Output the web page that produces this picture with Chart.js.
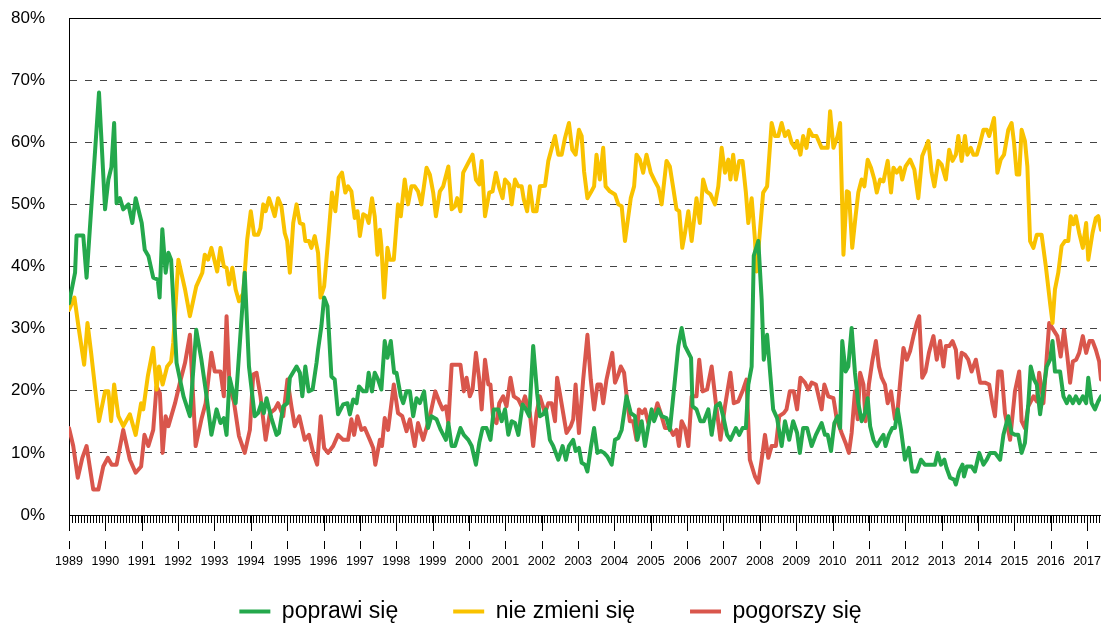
<!DOCTYPE html>
<html>
<head>
<meta charset="utf-8">
<script src="https://cdn.jsdelivr.net/npm/chart.js@4.4.1/dist/chart.umd.min.js"></script>
<style>
html, body { margin: 0; padding: 0; background: #fff; }
#wrap { width: 1101px; height: 628px; }
</style>
</head>
<body>
<div id="wrap"><canvas id="chart"></canvas></div>
<script>
const seriesNames = ['poprawi się', 'nie zmieni się', 'pogorszy się'];
const seriesColors = ['#24a84c', '#f9c200', '#d9564c'];
const firstYear = 1989;
const lastMonth = 340.6;   // months since Jan 1989 at right edge
const yMax = 80;

// [months since Jan 1989, percent]
const poprawiSie = [
  [0,34.1],[2,39],[2.5,45],[4.7,45],[5.8,38.2],[9.9,68],[11.9,49.2],[13,54],[14,56],[14.9,63.1],[15.7,50.2],[16.8,51],[17.9,49.2],[19.6,50],[20.9,47],[22,51],[24,47],[25,42.7],[26.2,41.7],[27.8,38.2],[29.3,37.9],[29.9,35],[30.8,46],[31.9,39],[32.8,42.2],[33.7,41.1],[35.5,24.5],[37.8,19.1],
  [39.9,15.9],[42,29.8],[43.7,25],[45.4,19.1],[47,12.9],[48.7,17],[50,14.8],[51.1,15.6],[52,12.9],[53,22.1],[55,18],[58,39],[59.4,23.9],[61.3,15.9],[62.4,16.4],[63.5,18],[64.3,16.4],[65.2,18.8],[66.8,15.6],[68.5,12.9],[69.3,13.2],[70.7,17.5],[72.1,18],[72.9,22.1],[75.1,23.9],[76.2,22.9],[77,19.1],[78,23.9],[79.1,19.9],[80.4,20.2],[81.7,24.5],
  [82.2,26.6],[83.3,30.4],[84.2,35],[85.3,33.6],[86.6,22.3],[87.7,21.8],[88.8,16.2],[90.5,17.8],[91.9,18],[92.7,16.2],[93.8,18.6],[94.9,18],[95.7,20.7],[97.1,19.9],[98.2,19.9],[98.9,22.9],[100,19.9],[100.9,22.9],[102,21.8],[103.1,20.2],[104.2,28],[105.1,25.3],[106.2,28],[107.3,22.9],[108.1,22.9],[109.5,19.1],[110.3,18],[111.4,19.9],[112.5,19.9],[113.6,15.9],[114.7,18.8],[115.8,18],[117.2,19.9],[118.5,14],[119.6,15.9],[121.3,15.4],[122.7,13.7],
  [124.4,12.1],[125.2,14.8],[126.3,11.1],[127.4,11.1],[129.2,14],[130.3,12.9],[131.8,12.1],[132.9,11.1],[134.3,8.1],[135.4,11.6],[136.5,14],[137.8,14],[139.1,12.1],[140.2,17],[141.7,17],[142.8,15.1],[143.9,17],[145,12.9],[146.1,15.1],[147.2,14.8],[148.3,12.9],[149.7,17.8],[150.8,17],[151.9,15.9],[153.2,27.2],[154.5,19.6],[155.4,15.9],[156.5,16.2],[157.4,17],[158.7,12.1],[159.8,11.1],[161.5,8.9],[162.9,11.1],[164,8.9],
  [165,11.1],[166.4,12.1],[167.2,10.3],[168.3,10.8],[169.2,8.4],[170.3,8.1],[171.1,7],[172.2,10.8],[173.3,14],[174.4,10],[175.5,10.3],[176.6,10],[177.7,9.4],[179.1,8.1],[180.2,12.1],[181.3,12.4],[182.4,13.7],[184,19.1],[185.4,16.4],[186.8,15.9],[187.6,12.1],[189,15.1],[190.1,11.1],[191.2,14.3],[192.3,17],[193.1,15.1],[194.5,17],[195.6,15.9],[197.2,15.6],[198.3,13.7],[200,21.8],[201.1,27.2],[202.2,30.1],[203.3,27.2],[205.3,25.3],
  [205.8,17.5],[207.1,17],[208.4,15.1],[209.5,15.1],[211,17],[212.1,12.9],[213.5,17.5],[214.8,18],[215.9,15.9],[217.2,12.9],[218.3,12.1],[220.1,14],[221.2,12.9],[222.3,14],[223.4,14],[224.2,21],[225.3,23.9],[226,41.7],[227.5,44.1],[228.6,34.7],[229.3,25],[230.4,29],[231.5,22.3],[232.4,17],[233.7,15.6],[235.2,11.1],[236.3,15.1],[237.7,12.1],[239,15.1],[240.3,13.2],[241.2,10],[242.3,14],[243.6,14],[245.1,11.1],[246.5,12.9],
  [248.4,14.8],[249.5,12.9],[250.4,12.9],[251.5,10.3],[252.6,14.8],[253.7,15.9],[254.5,14],[255.2,28],[256.3,23.1],[257.2,23.9],[258.3,30.1],[259.4,22.9],[260.5,18],[261.6,15.1],[262.7,16.4],[263.6,18.8],[264.4,14.3],[265.5,12.1],[266.6,11.1],[267.7,12.1],[268.8,12.9],[269.5,11.1],[270.6,12.9],[271.7,14],[272.6,14],[273.5,17],[274.6,13.7],[275.9,8.9],[277.2,10.8],[278.3,7],[279.8,7],[281.2,8.9],[282.5,8.1],[284.2,8.1],[285.8,8.1],[286.7,10],[287.8,8.1],[288.9,8.9],
  [289.6,7.6],[290.8,6],[292.1,5.7],[292.7,4.9],[293.8,7],[294.9,8.1],[295.4,6.2],[296.3,7.8],[297.9,7.8],[299,7],[300.4,10],[301.8,8.1],[302.9,8.9],[304,10],[305.6,10],[307.3,8.9],[308.4,12.9],[310,15.9],[311.1,13.2],[312.2,12.9],[313.3,12.9],[314.4,10],[315.5,11.6],[316.6,17.8],[317.4,23.9],[318.5,21.8],[319.4,21],[320.5,16.2],[321.6,20.2],[322.7,23.9],[323.8,25],[324.6,28],[325.4,23.1],[327.1,23.1],[328.2,19.1],[329.3,18],[330.2,19.1],[331.3,18],[332.3,19.1],[333.4,18],[334.6,19.1],[335.7,18],[336.4,22.1],[337.5,18],[338.6,17],[339.7,18.3],[340.6,19.1]
];

const nieZmieniSie = [
  [0,33],[1.8,35],[3.1,30.4],[5,24.2],[6.1,30.9],[7.3,26.1],[8.6,20.5],[9.9,15.1],[11.9,19.9],[13,19.9],[13.9,15.1],[14.9,21],[16.3,15.9],[17.9,14.3],[20.1,16.2],[22,12.9],[23.8,18],[24.5,17],[26,22.3],[27.8,26.9],[28.9,20.2],[29.7,23.9],[30.9,21],[32.4,23.9],[33.7,24.7],[34.4,27.7],[36.1,41.1],[38.3,36.3],
  [39.9,32],[42,36.8],[44,39],[44.8,41.9],[45.9,41.1],[47,43],[48.9,39.2],[50,43],[51.1,40],[52,39.8],[52.8,37.1],[53.9,39.8],[55,36.3],[56.1,34.4],[57.5,35.7],[58.8,44.3],[60,48.9],[61.1,45.1],[62.4,45.1],[63.2,46.2],[64.1,50],[64.9,48.9],[66,51],[67.1,49.4],[67.9,48.1],[69,51],[70.1,49.7],[71.2,45.4],[72,44.1],[72.9,39],[74,47],[75.1,50],[76.2,47],[77.3,46.8],[78,44.1],[79.2,44.1],[80,43],[81.1,44.9],
  [82.2,42.2],[83,35],[84.2,36.8],[85.5,44.1],[86.8,51.9],[87.9,48.9],[89,54.3],[90.1,55.1],[91.2,51.9],[92.1,52.9],[93.2,52.1],[94.3,47.8],[95.2,48.9],[96,44.9],[97.1,48.4],[98.2,48.1],[98.9,47],[100,51],[100.9,48.1],[101.8,41.9],[102.6,45.9],[103.1,43.3],[104,35],[105.1,43],[105.9,41.1],[107.2,41.1],[108.6,50],[109.5,48.1],[110.8,54],[111.9,50],[113,52.9],[114.1,52.9],[115.2,52.1],[116.3,50],[118,55.9],[119.1,54.8],[120.2,51.9],[121.1,48.1],[122.4,52.1],
  [123.5,52.9],[125.2,56.1],[126.3,49.2],[127.4,49.7],[128.1,51],[129.2,48.9],[130.1,55.1],[131.8,56.7],[133.2,58],[134.3,54],[135.4,53.2],[136.2,57],[137.3,48.1],[138.7,51.9],[139.8,52.1],[140.9,55.1],[142,52.7],[143.1,51],[143.9,54],[145.3,53.2],[146.1,50],[147.2,54],[148.3,52.9],[149.4,52.9],[150.1,50.8],[151.2,48.9],[152.1,52.9],[153.2,48.9],[154.3,48.9],[155.4,52.9],[157.1,53],[158.2,57],[160.4,61],[161.5,58],[162.6,58],[163.7,60.7],
  [165,63.1],[166.1,58.8],[167.2,58],[168.3,62],[169.2,61],[170,55.3],[171.1,51],[172.2,51.9],[173.3,52.9],[174.1,58],[175.2,54],[176.3,59.1],[177.1,52.9],[178.5,52.1],[180.2,51.6],[181.3,50],[182.4,49.7],[183.5,44.1],[184.6,48.1],[185.4,51],[186.5,52.9],[187.3,58],[188.4,57.2],[189.5,55.1],[190.6,58],[192,55.1],[193.4,53.7],[194.5,52.7],[195.6,50],[197.2,57],[198.3,56.1],[199.4,52.7],[200.5,49.2],[201.4,48.9],[202.4,43],[203.3,45.4],[204.4,48.9],[205.5,44.1],
  [207.1,51],[208.2,47],[209.3,54],[210.4,52.1],[211.7,51.6],[213.2,50],[214.3,52.9],[215.4,59.1],[216.5,55.1],[217.6,57.2],[218.3,54],[219.2,58],[220.1,54],[221.2,57],[222.3,57],[223.4,51.9],[224.2,47],[225.3,51],[226.4,44.3],[226.9,39.2],[227.8,44.3],[229.1,51.9],[230.4,52.9],[231.9,63.1],[233,61],[234.1,61],[235.2,63.1],[236.3,61],[237.4,61.8],[238.5,59.9],[239.6,59.1],[240.3,60.2],[241.4,58],[242.3,61],[243.4,59.1],[244.3,62],[245.4,61],[246.7,61],
  [248.4,59.1],[250.4,59.1],[251.2,65],[252.3,59.1],[253.7,61],[254.5,63.1],[255.6,41.9],[256.7,52.1],[257.4,51.9],[258.5,43],[259.6,48.1],[260.5,51.9],[261.6,54],[262.5,52.9],[263.6,57.2],[264.7,55.9],[265.8,54],[266.6,51.9],[267.7,54],[268.8,53.7],[270.2,57],[271.3,51.9],[272.1,55.9],[273.2,55.1],[274.3,55.9],[275,54],[276.1,56.1],[277.6,57.2],[279,55.6],[280.3,51],[281.6,57.8],[283.6,60.2],[284.7,55.1],[285.6,52.9],[286.9,57],[288,56.4],
  [289.4,54],[290.5,58.8],[291.6,57],[292.7,58],[293.5,61],[294.6,57],[295.7,61],[296.5,58],[297.6,59.1],[298.5,58],[299.6,58],[300.7,59.9],[301.8,62],[302.9,62],[303.7,61],[305.3,63.9],[306.4,55.1],[307.5,57.2],[308.6,58],[310,62],[311.1,63.1],[311.9,59.9],[312.8,54.8],[313.6,54.8],[314.4,62],[315.5,60.2],[316.3,56.1],[317.2,44.1],[318.3,43],[319.4,45.1],[321,45.1],[322.4,40],[323.8,34.1],[324.6,30.9],[325.4,36.3],[326.5,39],[327.6,43.3],[328.7,44.1],[329.8,44.1],[330.6,48.1],[331.5,46.8],[332.3,48.1],[333.4,45.4],[334.6,43],[335.7,47],[336.4,41.1],[337.8,45.4],[338.9,47.8],[339.7,48.1],[340.6,45.9]
];

const pogorszySie = [
  [0,14],[1.4,11.1],[2.9,6],[4.4,9.2],[5.8,11.1],[8,4.1],[9.7,4.1],[11.3,7.8],[12.8,9.2],[14.1,8.1],[15.7,8.1],[17.9,13.7],[20.1,8.9],[22,6.8],[23.8,7.8],[24.9,12.9],[26.2,11.1],[27.8,13.7],[28.9,20.7],[30,19.6],[30.9,10],[31.9,15.9],[32.8,14.3],[35,18],[36.6,21.3],[38.3,24.5],
  [39.9,29],[41.8,11.1],[43.7,15.4],[45.1,18],[47,26.1],[48.1,23.1],[50,23.1],[51.1,19.1],[52,32],[53,20.5],[54.4,18.3],[56.1,12.7],[58,10],[59.7,13.7],[60.8,22.6],[61.9,22.9],[63.2,19.1],[64.9,12.1],[66.3,16.4],[67.9,17],[69,18],[70.7,15.9],[72.1,21.8],[73.4,17.5],[74.5,14.3],[76,15.9],[77.8,12.1],[79.2,12.9],[80.6,10],[81.9,8.1],
  [83.1,15.9],[84.2,10.8],[85.5,10],[87.2,11.1],[88.8,12.9],[90.5,12.1],[92.1,12.1],[93.2,15.4],[94.1,12.9],[95.2,15.9],[96.5,13.7],[97.6,14],[99.3,12.1],[100.4,10.8],[101.1,8.1],[102.6,12.1],[103.3,11.1],[104.2,15.6],[105.3,13.7],[107.2,21],[108.6,16.4],[110,15.9],[111.4,13.5],[112.5,15.4],[114.1,11.1],[115.2,14.8],[116.9,12.1],[119.1,15.9],[120.9,19.9],[122.4,18],
  [123.3,17],[124.4,17.5],[125.2,14.8],[126.3,24.2],[127.9,24.2],[129.2,24.2],[130.3,19.9],[131.2,22.1],[132.3,19.1],[133.2,20.2],[134.3,26.1],[135.4,21.8],[136.2,17],[137.3,25],[138.4,21],[139.1,21],[140,15.4],[141.1,14.8],[142,18],[143.3,19.1],[144.4,17.5],[145.7,22.1],[146.8,19.1],[148.3,18.6],[149.4,17.5],[150.5,19.1],[151.2,17.8],[152.1,16.4],[153.2,11.1],[154.3,16.4],[155.4,19.1],[157.1,16.4],[158.2,18],[159.3,18],[160.4,15.1],[161.1,22.1],[162,19.6],[163.1,16.4],[164.2,13.2],
  [165.6,14.3],[166.4,15.4],[167.2,21],[168.3,13.2],[169.7,21.8],[171.1,29],[172.2,21.8],[173.3,17],[174.4,21],[175.5,21],[176.3,18],[177.4,21.8],[179.3,26.1],[180.2,21.3],[181.3,22.6],[182.1,23.9],[183.2,22.9],[184.3,18],[185.1,15.1],[186.2,15.1],[187.3,12.1],[188.1,17],[189.2,16.4],[190.1,17],[191.2,14.8],[192.3,16.4],[193.4,16.4],[194.2,18],[195.3,16.4],[196.7,14],[198.3,14],[199.4,12.9],[200.5,13.7],[201.3,11.1],[202.2,15.1],[203.3,14],[204.4,11.1],[205.5,19.1],
  [207.1,19.1],[208,25],[209.1,19.9],[210.6,20.2],[212.1,23.9],[213.5,18],[215,12.1],[216.5,17.5],[218.3,22.9],[219.4,18],[220.9,18.3],[222.5,20.2],[223.6,21.8],[224.7,8.9],[226.4,6.2],[227.5,5.2],[228.6,8.9],[229.7,12.9],[230.8,9.2],[231.9,11.1],[233.3,11.1],[234.4,15.9],[235.9,16.4],[236.8,17],[237.9,19.9],[239.2,19.9],[240.3,17],[241.4,22.1],[242.9,21.3],[244,20.2],[245.1,21.3],[246.5,21],
  [248.4,17],[249.3,21],[250.6,19.1],[252.3,18.8],[253.4,15.4],[255,13.2],[256.3,11.6],[257.4,10],[258.3,13.2],[259.4,19.9],[260.3,15.4],[261.1,22.9],[262.2,21],[262.9,15.1],[264,21],[265.1,24.7],[266.3,28],[267.3,23.9],[268.2,22.1],[269.3,21],[270.2,18],[271.3,19.9],[272.6,15.4],[273.5,17],[274.6,22.9],[275.4,26.9],[276.5,25],[277.6,26.4],[278.7,28.8],[279.8,30.9],[280.6,32],[281.6,22.1],[282.7,23.1],[283.8,26.1],[285.3,28.8],[286.4,25],[287.5,28],[288.6,23.9],
  [289.4,27.2],[290.5,27.2],[291.6,28],[292.7,26.6],[293.5,22.1],[294.6,26.1],[295.7,25.8],[296.8,25],[297.9,23.1],[299.3,25],[300.7,21.3],[302.3,21.3],[303.7,21],[304.8,17.8],[305.6,15.9],[306.7,23.1],[307.8,23.1],[308.9,16.4],[310.6,12.1],[312.2,19.9],[313.6,23.1],[314.4,15.1],[315.5,14],[316.6,17.5],[318.3,19.1],[319.4,18.3],[320.2,22.9],[321.6,18],[322.7,25.5],[323.5,30.9],[324.9,29.8],[326.2,28.8],[327.3,25.5],[328.4,29.8],[329.5,25.5],[330.4,21.3],[331.3,24.7],[332.4,25],[333.4,26.1],[334.6,28.8],[335.7,26.1],[336.8,28],[337.8,28],[338.9,26.6],[340,24.7],[340.6,21.8]
];

const FONT = 'Arial, "Liberation Sans", sans-serif';

// long yearly ticks, the small marks above the year labels, and the top frame line
const yearMarks = {
  id: 'yearMarks',
  afterDraw(chart) {
    const { ctx, chartArea } = chart;
    const x = chart.scales.x;
    const bottom = Math.round(chartArea.bottom);
    ctx.save();
    ctx.strokeStyle = '#000';
    ctx.lineWidth = 1;
    ctx.beginPath();
    const top = Math.round(chartArea.top) + 0.5;
    ctx.moveTo(chartArea.left, top);
    ctx.lineTo(chartArea.right, top);
    for (let m = 0; m <= x.max; m += 12) {
      const px = Math.round(x.getPixelForValue(m)) + 0.5;
      ctx.moveTo(px, bottom);
      ctx.lineTo(px, bottom + 16);
      ctx.moveTo(px, bottom + 26);
      ctx.lineTo(px, bottom + 34);
    }
    ctx.stroke();
    ctx.restore();
  }
};

const toPoints = (rows) => rows.map(([m, v]) => ({ x: m, y: v }));
const allSeries = [poprawiSie, nieZmieniSie, pogorszySie];

new Chart(document.getElementById('chart'), {
  type: 'line',
  data: {
    datasets: allSeries.map((rows, i) => ({
      label: seriesNames[i],
      data: toPoints(rows),
      borderColor: seriesColors[i],
      backgroundColor: seriesColors[i],
      borderWidth: 4,
      pointRadius: 0,
      tension: 0,
      fill: false,
      borderJoinStyle: 'round',
      borderCapStyle: 'round'
    }))
  },
  options: {
    responsive: true,
    maintainAspectRatio: false,
    animation: false,
    layout: { padding: { top: 18, right: 0, bottom: -5, left: 0 } },
    scales: {
      x: {
        type: 'linear',
        min: 0,
        max: lastMonth,
        afterFit: (scale) => { scale.height = 30; },
        grid: { drawOnChartArea: false, tickLength: 8, color: '#000', lineWidth: 1 },
        border: { color: '#000', width: 1 },
        ticks: {
          stepSize: 1,
          autoSkip: false,
          includeBounds: false,
          maxRotation: 0,
          minRotation: 0,
          mirror: true,
          padding: -54,
          color: '#000',
          font: { family: FONT, size: 12.5 },
          callback: (v) => (v % 12 === 0 ? String(firstYear + v / 12) : '')
        }
      },
      y: {
        min: 0,
        max: yMax,
        afterFit: (scale) => { scale.width = 69; },
        grid: { color: '#444', lineWidth: 1, drawTicks: true, tickLength: 24, tickColor: 'rgba(0,0,0,0)' },
        border: { color: '#000', width: 1, dash: [7, 8] },
        ticks: {
          stepSize: 10,
          padding: 0,
          color: '#000',
          font: { family: FONT, size: 17 },
          callback: (v) => v + '%'
        }
      }
    },
    plugins: {
      legend: {
        position: 'bottom',
        labels: {
          boxWidth: 31,
          boxHeight: 4,
          padding: 55,
          color: '#000',
          font: { family: FONT, size: 23 },
          generateLabels: (chart) =>
            Chart.defaults.plugins.legend.labels.generateLabels(chart).map((l) => ({
              ...l, fillStyle: l.strokeStyle, lineWidth: 0
            }))
        }
      },
      tooltip: { enabled: false }
    }
  },
  plugins: [yearMarks]
});
</script>
</body>
</html>
